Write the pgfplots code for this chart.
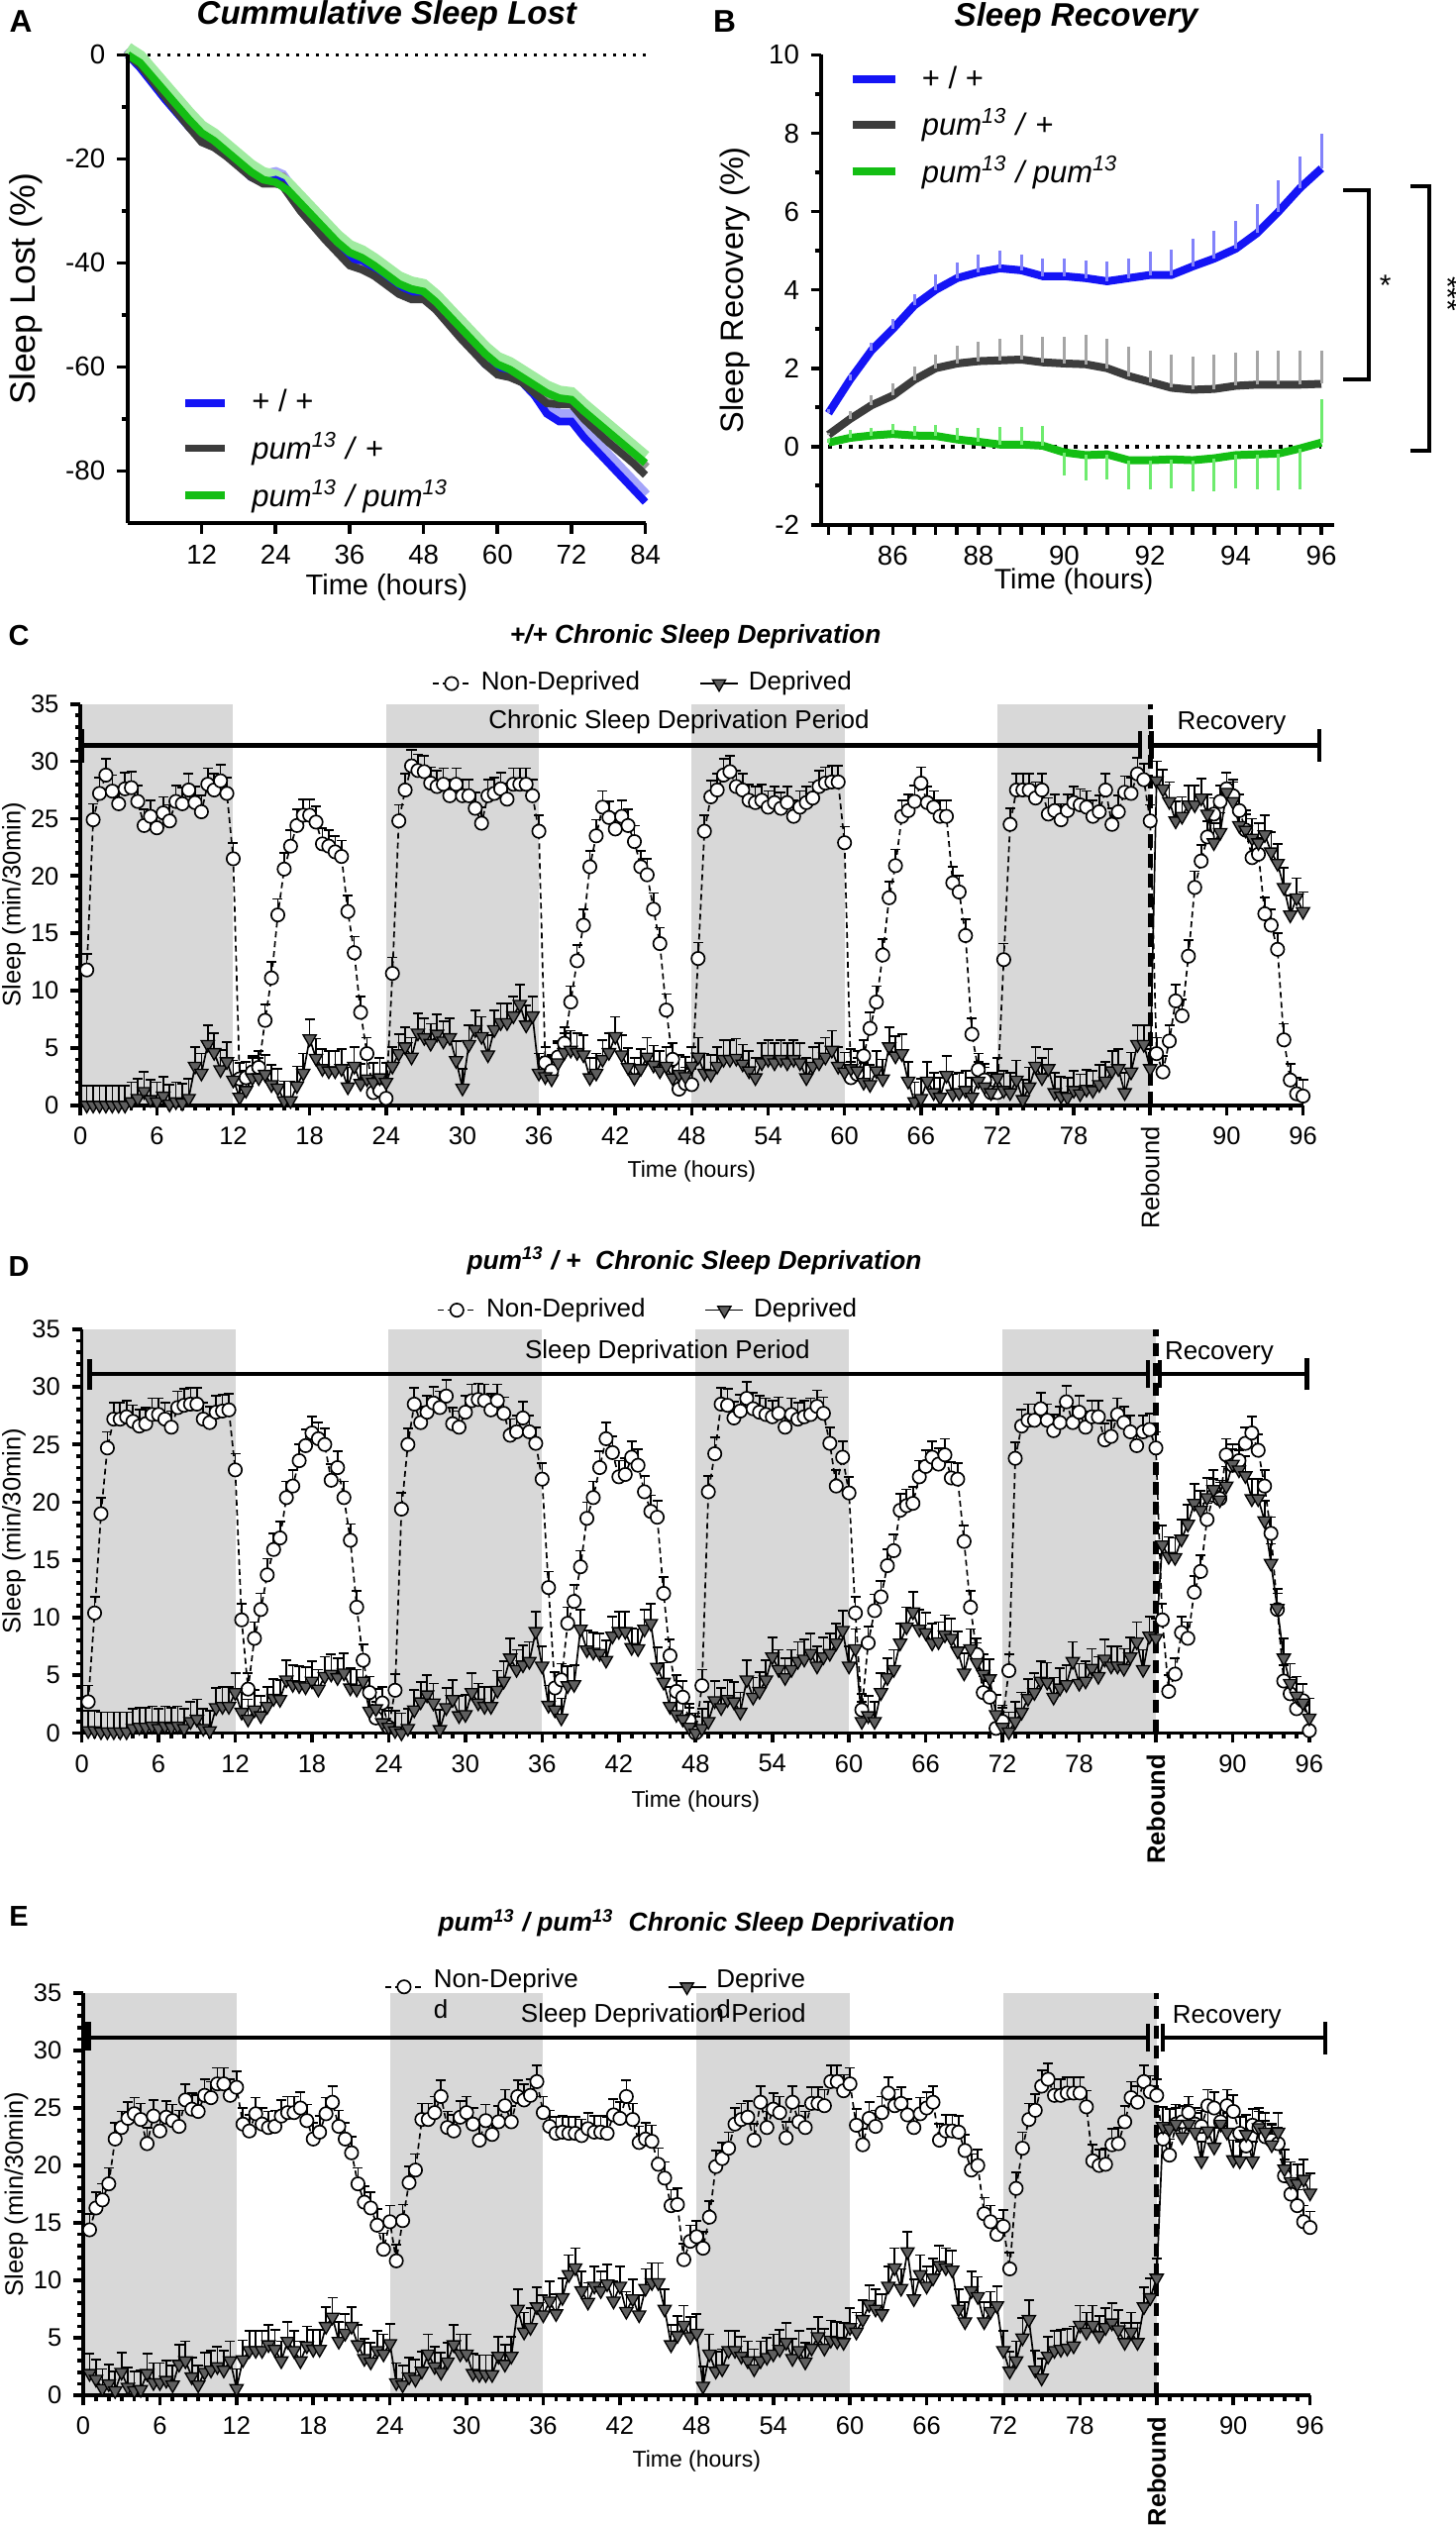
\documentclass[border=0pt]{standalone}
\usepackage{fontspec}
\setmainfont{Liberation Sans}
\usepackage{pgfplots}
\usepackage{pgfplotstable}
\pgfplotsset{compat=1.18}
\definecolor{cblue}{RGB}{20,20,245}
\definecolor{cgray}{RGB}{60,60,60}
\definecolor{cgreen}{RGB}{20,190,20}
\definecolor{lblue}{RGB}{130,130,250}
\definecolor{lgray}{RGB}{165,165,165}
\definecolor{lgreen}{RGB}{110,235,110}
\definecolor{hblue}{RGB}{165,165,250}
\definecolor{hgray}{RGB}{150,150,150}
\definecolor{hgreen}{RGB}{160,235,160}
\definecolor{band}{RGB}{216,216,216}
\definecolor{tri}{RGB}{95,95,95}
\newcommand\fTickAB{\fontsize{8.3}{10}\selectfont}
\newcommand\fTickC{\fontsize{7.65}{9}\selectfont}
\newcommand\fLegC{\fontsize{7.8}{9.4}\selectfont}

\pgfplotstableread{
x nd dep
0.5 11.8 0.0
1.0 24.9 0.0
1.5 27.2 0.0
2.0 28.8 0.0
2.5 27.4 0.0
3.0 26.3 0.0
3.5 27.6 0.0
4.0 27.7 0.3
4.5 26.5 0.6
5.0 24.4 1.2
5.5 25.2 0.5
6.0 24.2 0.3
6.5 25.5 0.8
7.0 24.8 0.1
7.5 26.5 0.3
8.0 26.3 0.2
8.5 27.5 0.6
9.0 26.4 3.4
9.5 25.6 2.8
10.0 28.0 5.3
10.5 27.5 4.6
11.0 28.3 3.1
11.5 27.2 3.8
12.0 21.5 2.2
12.5 2.3 0.7
13.0 2.4 1.3
13.5 2.9 2.4
14.0 3.3 2.4
14.5 7.4 2.7
15.0 11.1 1.8
15.5 16.6 1.5
16.0 20.6 0.4
16.5 22.6 0.4
17.0 24.4 1.7
17.5 25.3 2.8
18.0 25.3 5.8
18.5 24.7 4.1
19.0 22.8 3.2
19.5 22.6 3.0
20.0 22.1 3.0
20.5 21.7 3.2
21.0 16.9 1.6
21.5 13.3 3.4
22.0 8.1 1.9
22.5 4.5 2.3
23.0 1.1 2.0
23.5 1.3 2.4
24.0 0.6 2.0
24.5 11.5 3.4
25.0 24.8 4.5
25.5 27.5 5.1
26.0 29.6 4.2
26.5 29.2 6.3
27.0 29.1 5.9
27.5 28.1 5.4
28.0 27.8 6.2
28.5 28.0 5.6
29.0 27.0 5.9
29.5 28.0 3.9
30.0 27.0 1.5
30.5 27.0 5.3
31.0 25.9 6.6
31.5 24.6 6.0
32.0 27.0 4.4
32.5 27.2 6.6
33.0 27.6 7.2
33.5 26.7 7.2
34.0 28.0 7.8
34.5 28.0 8.8
35.0 28.0 7.0
35.5 27.0 7.8
36.0 23.9 2.8
36.5 3.7 2.5
37.0 3.0 2.3
37.5 4.2 3.7
38.0 5.4 4.6
38.5 9.0 4.8
39.0 12.6 4.6
39.5 15.7 4.4
40.0 20.8 2.4
40.5 23.5 2.8
41.0 26.0 4.0
41.5 25.1 4.6
42.0 24.1 6.0
42.5 25.2 4.4
43.0 24.4 3.3
43.5 23.0 2.4
44.0 20.8 3.2
44.5 20.1 4.2
45.0 17.1 3.5
45.5 14.1 3.0
46.0 8.3 3.4
46.5 4.0 2.4
47.0 1.4 2.7
47.5 1.9 2.5
48.0 1.8 3.4
48.5 12.8 4.2
49.0 23.9 2.8
49.5 26.9 2.7
50.0 27.5 3.4
50.5 28.8 4.0
51.0 29.1 4.0
51.5 27.8 4.1
52.0 27.5 3.6
52.5 26.6 3.0
53.0 26.4 2.4
53.5 26.6 3.7
54.0 26.0 4.0
54.5 26.4 3.7
55.0 25.9 4.0
55.5 26.4 3.7
56.0 25.2 4.0
56.5 26.0 3.7
57.0 26.4 2.4
57.5 26.8 3.4
58.0 27.8 3.7
58.5 28.1 4.2
59.0 28.2 4.8
59.5 28.2 3.4
60.0 22.9 2.9
60.5 2.4 3.2
61.0 2.7 3.0
61.5 4.3 2.0
62.0 6.7 1.8
62.5 9.0 3.0
63.0 13.1 2.3
63.5 18.1 5.1
64.0 20.9 4.3
64.5 25.2 4.5
65.0 25.7 2.1
65.5 26.5 0.3
66.0 28.1 0.6
66.5 26.4 2.1
67.0 26.0 1.1
67.5 25.2 0.7
68.0 25.2 2.6
68.5 19.4 1.0
69.0 18.6 1.1
69.5 14.8 1.3
70.0 6.2 0.7
70.5 3.1 2.1
71.0 2.2 1.6
71.5 1.1 1.1
72.0 1.1 2.4
72.5 12.7 1.3
73.0 24.5 1.1
73.5 27.5 2.2
74.0 27.5 0.5
74.5 27.5 1.6
75.0 26.8 3.4
75.5 27.5 2.4
76.0 25.4 3.2
76.5 25.7 1.1
77.0 24.9 0.8
77.5 25.7 0.7
78.0 26.4 1.3
78.5 26.2 1.0
79.0 26.0 1.4
79.5 25.2 1.3
80.0 25.6 1.8
80.5 27.5 2.1
81.0 24.5 3.0
81.5 25.6 3.2
82.0 27.3 1.1
82.5 27.2 2.9
83.0 28.9 5.3
83.5 28.4 5.3
84.0 24.8 3.2
84.5 4.5 28.3
85.0 2.9 27.6
85.5 5.6 26.5
86.0 9.1 24.8
86.5 7.8 25.2
87.0 13.0 26.2
87.5 19.0 26.2
88.0 21.3 26.8
88.5 23.4 25.4
89.0 25.4 22.9
89.5 26.5 23.8
90.0 27.6 27.3
90.5 27.0 26.5
91.0 25.7 24.4
91.5 24.0 24.0
92.0 21.6 23.3
92.5 21.9 22.9
93.0 16.7 23.6
93.5 15.7 22.1
94.0 13.6 21.1
94.5 5.7 19.0
95.0 2.2 16.6
95.5 1.0 18.1
96.0 0.8 16.9
}\Cdata

\pgfplotstableread{
x nd dep
0.5 2.7 0.2
1.0 10.4 0.2
1.5 19.0 0.1
2.0 24.7 0.1
2.5 27.2 0.1
3.0 27.2 0.1
3.5 27.4 0.1
4.0 27.0 0.4
4.5 26.6 0.5
5.0 26.8 0.5
5.5 27.6 0.6
6.0 27.6 0.4
6.5 27.2 0.6
7.0 26.5 0.5
7.5 28.2 0.6
8.0 28.4 0.4
8.5 28.5 1.0
9.0 28.5 1.2
9.5 27.2 0.4
10.0 26.9 0.2
10.5 27.8 2.2
11.0 27.9 2.3
11.5 28.0 2.3
12.0 22.8 3.5
12.5 9.8 1.8
13.0 3.8 1.2
13.5 8.2 2.0
14.0 10.7 1.5
14.5 13.7 2.3
15.0 15.9 3.0
15.5 16.9 2.9
16.0 20.4 4.6
16.5 21.4 4.2
17.0 23.6 4.1
17.5 24.9 4.0
18.0 26.0 4.5
18.5 25.5 3.8
19.0 25.0 4.9
19.5 21.9 5.1
20.0 23.0 4.8
20.5 20.4 5.2
21.0 16.7 3.9
21.5 10.9 3.8
22.0 6.3 4.5
22.5 3.5 1.9
23.0 1.3 2.1
23.5 2.6 0.9
24.0 0.5 0.5
24.5 3.7 0.2
25.0 19.4 0.0
25.5 25.0 0.4
26.0 28.5 2.0
26.5 26.9 2.7
27.0 27.8 3.3
27.5 28.6 2.6
28.0 28.2 0.3
28.5 29.2 2.2
29.0 26.8 2.9
29.5 26.5 1.5
30.0 27.8 1.6
30.5 28.8 3.5
31.0 28.9 2.6
31.5 28.8 2.3
32.0 28.0 2.3
32.5 28.8 3.7
33.0 27.7 4.5
33.5 25.8 6.5
34.0 26.1 5.5
34.5 27.3 5.9
35.0 26.1 6.2
35.5 25.1 8.8
36.0 22.0 5.8
36.5 12.6 2.4
37.0 3.9 2.0
37.5 4.6 1.3
38.0 9.5 4.1
38.5 11.4 4.2
39.0 14.4 9.0
39.5 18.6 7.2
40.0 20.4 7.0
40.5 23.0 6.9
41.0 25.5 6.3
41.5 24.3 8.4
42.0 22.2 8.8
42.5 22.4 8.8
43.0 23.9 7.4
43.5 23.2 7.3
44.0 20.9 9.0
44.5 19.2 9.5
45.0 18.7 5.7
45.5 12.1 4.4
46.0 6.7 2.3
46.5 3.6 1.6
47.0 3.1 1.2
47.5 1.1 0.5
48.0 0.0 0.0
48.5 4.1 0.4
49.0 20.9 1.0
49.5 24.2 2.8
50.0 28.5 2.2
50.5 28.4 2.9
51.0 27.3 2.7
51.5 27.9 1.8
52.0 29.0 4.6
52.5 28.1 3.1
53.0 27.8 3.6
53.5 27.6 4.6
54.0 27.4 6.6
54.5 27.7 5.5
55.0 26.5 4.8
55.5 27.6 5.5
56.0 27.2 6.2
56.5 27.4 6.4
57.0 27.6 6.9
57.5 28.3 5.8
58.0 27.7 6.6
58.5 25.1 6.9
59.0 21.4 7.8
59.5 23.9 8.9
60.0 20.8 5.8
60.5 10.4 7.3
61.0 2.0 1.0
61.5 7.8 1.5
62.0 10.6 1.0
62.5 11.8 3.5
63.0 14.5 4.8
63.5 15.8 5.5
64.0 19.3 7.8
64.5 19.7 9.2
65.0 19.9 10.5
65.5 22.2 9.0
66.0 23.1 8.7
66.5 23.9 7.8
67.0 23.3 7.9
67.5 24.1 8.5
68.0 22.1 8.2
68.5 22.0 7.1
69.0 16.6 5.2
69.5 10.9 7.3
70.0 6.8 6.1
70.5 3.5 5.1
71.0 3.1 4.7
71.5 0.4 1.6
72.0 1.0 0.5
72.5 5.4 0.1
73.0 23.8 1.0
73.5 26.6 1.8
74.0 27.1 3.0
74.5 27.1 3.5
75.0 28.1 4.5
75.5 27.1 4.4
76.0 26.2 3.1
76.5 26.9 3.9
77.0 28.7 4.2
77.5 26.9 6.2
78.0 27.8 4.3
78.5 26.5 4.5
79.0 27.4 5.6
79.5 27.4 4.9
80.0 25.4 6.4
80.5 25.7 5.8
81.0 27.6 5.8
81.5 26.9 5.6
82.0 26.1 6.6
82.5 24.9 7.9
83.0 26.1 5.5
83.5 26.3 8.4
84.0 24.7 8.2
84.5 9.8 16.3
85.0 3.6 15.3
85.5 5.1 15.2
86.0 8.7 16.8
86.5 8.2 18.1
87.0 12.2 19.9
87.5 14.0 19.3
88.0 18.5 20.4
88.5 20.6 21.1
89.0 20.3 20.2
89.5 24.1 21.4
90.0 23.2 23.3
90.5 23.6 22.8
91.0 25.1 22.3
91.5 26.0 20.3
92.0 24.5 20.3
92.5 21.4 18.4
93.0 17.3 14.7
93.5 10.7 10.8
94.0 4.5 6.5
94.5 3.4 4.3
95.0 2.1 3.2
95.5 2.8 2.6
96.0 0.2 1.3
}\Ddata

\pgfplotstableread{
x nd dep
0.5 14.4 1.9
1.0 16.3 1.4
1.5 17.0 0.6
2.0 18.4 1.0
2.5 22.3 0.4
3.0 23.3 2.0
3.5 24.1 0.7
4.0 24.5 0.4
4.5 24.0 0.5
5.0 21.9 1.9
5.5 24.3 1.1
6.0 23.0 1.1
6.5 24.2 1.3
7.0 23.9 0.9
7.5 23.4 2.7
8.0 25.7 3.0
8.5 24.9 1.6
9.0 24.7 0.9
9.5 26.1 2.0
10.0 25.9 2.2
10.5 27.1 2.5
11.0 27.1 2.2
11.5 26.1 3.0
12.0 26.8 0.6
12.5 23.6 3.1
13.0 23.0 3.9
13.5 24.5 3.9
14.0 23.6 3.9
14.5 23.3 4.4
15.0 23.4 4.0
15.5 24.3 3.0
16.0 24.6 4.7
16.5 24.6 3.9
17.0 25.0 3.0
17.5 23.9 4.3
18.0 22.3 4.0
18.5 22.9 4.0
19.0 24.5 6.0
19.5 25.5 6.8
20.0 23.4 4.7
20.5 22.3 5.4
21.0 21.1 6.0
21.5 18.4 4.4
22.0 16.8 3.2
22.5 16.3 2.9
23.0 14.8 3.9
23.5 12.7 3.6
24.0 15.1 4.5
24.5 11.7 1.1
25.0 15.2 0.9
25.5 18.5 1.6
26.0 19.6 1.4
26.5 24.0 2.1
27.0 24.0 3.6
27.5 24.6 2.5
28.0 26.0 2.0
28.5 23.3 2.9
29.0 23.0 4.4
29.5 24.2 3.6
30.0 24.6 3.6
30.5 23.6 1.9
31.0 22.2 1.8
31.5 23.9 1.8
32.0 22.7 1.8
32.5 23.8 3.4
33.0 25.2 2.7
33.5 23.8 3.4
34.0 26.0 7.5
34.5 25.7 5.5
35.0 26.1 5.9
35.5 27.3 7.7
36.0 24.6 7.0
36.5 23.4 8.2
37.0 22.8 7.1
37.5 22.9 8.5
38.0 22.8 10.5
38.5 22.8 11.1
39.0 22.6 9.1
39.5 23.2 8.1
40.0 22.9 9.5
40.5 22.9 9.1
41.0 22.8 9.7
41.5 24.4 8.2
42.0 24.1 9.5
42.5 26.0 7.3
43.0 24.0 8.4
43.5 22.0 7.0
44.0 22.3 9.3
44.5 22.1 9.8
45.0 20.1 9.8
45.5 18.9 7.5
46.0 16.5 4.4
46.5 16.6 5.2
47.0 11.8 6.1
47.5 13.4 5.1
48.0 13.8 5.4
48.5 12.8 0.8
49.0 15.5 3.6
49.5 19.9 2.1
50.0 20.6 2.3
50.5 21.5 3.9
51.0 23.6 3.9
51.5 24.0 3.4
52.0 24.2 3.0
52.5 22.2 2.3
53.0 25.5 3.0
53.5 23.3 3.3
54.0 24.9 3.6
54.5 24.6 4.0
55.0 22.4 4.6
55.5 25.5 3.2
56.0 23.8 3.9
56.5 23.3 2.9
57.0 25.4 4.1
57.5 25.4 5.1
58.0 25.2 4.1
58.5 27.3 4.8
59.0 27.3 4.7
59.5 26.5 4.6
60.0 27.1 5.9
60.5 23.5 5.5
61.0 21.8 6.6
61.5 24.1 7.9
62.0 23.4 7.5
62.5 24.6 7.1
63.0 26.3 9.5
63.5 25.2 11.1
64.0 25.4 9.3
64.5 24.4 12.5
65.0 23.3 8.4
65.5 24.5 10.5
66.0 25.0 9.5
66.5 25.5 10.2
67.0 22.2 11.3
67.5 23.0 11.1
68.0 23.0 10.9
68.5 22.9 7.5
69.0 21.3 6.4
69.5 19.6 9.1
70.0 20.0 8.6
70.5 15.8 6.4
71.0 15.1 7.3
71.5 14.0 7.8
72.0 14.7 3.9
72.5 11.0 2.1
73.0 18.0 3.0
73.5 21.5 5.0
74.0 24.0 6.6
74.5 24.8 2.2
75.0 26.9 1.5
75.5 27.5 3.4
76.0 26.1 3.9
76.5 26.1 4.0
77.0 26.3 4.1
77.5 26.3 4.3
78.0 26.3 6.1
78.5 25.1 5.5
79.0 20.4 6.1
79.5 20.0 5.2
80.0 20.1 5.9
80.5 21.8 6.3
81.0 21.9 5.7
81.5 23.8 4.6
82.0 25.9 5.5
82.5 25.5 4.6
83.0 27.3 7.7
83.5 26.4 8.5
84.0 26.1 10.2
84.5 22.3 23.4
85.0 20.9 23.2
85.5 23.6 23.6
86.0 23.8 22.5
86.5 24.6 23.6
87.0 23.6 22.9
87.5 23.4 20.4
88.0 25.2 23.0
88.5 25.0 21.6
89.0 23.8 23.6
89.5 25.2 22.9
90.0 24.7 20.5
90.5 22.8 20.4
91.0 21.7 22.7
91.5 23.5 20.4
92.0 23.3 23.3
92.5 22.5 22.9
93.0 22.2 21.8
93.5 21.9 22.9
94.0 19.1 19.7
94.5 17.5 18.6
95.0 16.5 18.4
95.5 15.1 18.8
96.0 14.6 17.6
}\Edata

\pgfplotstableread{
x y
0 0
2 -2.5
6 -8.5
10 -14
12 -16
14 -17
16 -19.2
20 -23.5
22 -24.5
24 -24
25 -24.5
28 -29.5
32 -35
36 -39.5
38 -39.5
40 -41
44 -45
46 -46
48 -46
50 -48.5
54 -54
58 -59.5
60 -61
62 -61.5
64 -63
66 -65.5
68 -69
70 -70.5
72 -70.5
74 -73.5
78 -78.5
82 -83.5
84 -86
}\Ablue
\pgfplotstableread{
x y
0 0
2 -2
6 -8
10 -14
12 -16.8
14 -17.8
16 -19.5
20 -23.5
22 -24.8
24 -24.8
25 -25
28 -30
32 -35.5
36 -40.5
38 -41.3
40 -42.5
44 -46
46 -47
48 -47
50 -49
54 -54.5
58 -59.5
60 -61.5
62 -62
64 -63
68 -67
70 -67.2
72 -67.2
74 -70
78 -74.5
82 -78.5
84 -80.8
}\Agray
\pgfplotstableread{
x y
0 0
2 -1.5
6 -7
10 -12.5
12 -15
14 -16.5
16 -18.5
20 -22.5
22 -24
24 -24.5
26 -26
30 -31
34 -36
36 -38
38 -39
40 -40.5
44 -44
46 -45
48 -45.5
50 -47.5
54 -52.5
58 -57.5
60 -59.5
62 -60.5
64 -62
68 -65
70 -66
72 -66.3
74 -68.5
78 -72.5
82 -76.5
84 -78.5
}\Agreen

\pgfplotsset{
 prism/.style={
  scale only axis,
  axis lines=left,
  axis line style={-, line width=1.1pt},
  x axis line style={-}, y axis line style={-},
  tick style={black, line width=1.1pt},
  tick align=outside,
  /pgf/number format/assume math mode=true,
  clip=false,
  axis on top,
 },
 sdaxis/.style={
  prism,
  xmin=0, xmax=96, ymin=0, ymax=35,
  xtick={0,6,...,96},
  xticklabels={0,6,12,18,24,30,36,42,48,54,60,66,72,78,{},90,96},
  minor x tick num=5,
  ytick={0,5,...,35}, minor y tick num=4,
  major tick length=3pt, minor tick length=1.7pt,
  ticklabel style={font=\fTickC},
  extra x ticks={84}, extra x tick labels={Rebound},
  xlabel={Time (hours)}, ylabel={Sleep (min/30min)},
  xlabel style={font=\fontsize{6.9}{8}\selectfont, at={(axis description cs:0.5,-0.164)}, anchor=center},
  ylabel style={font=\fTickC, at={(axis description cs:-0.0545,0.5)}, anchor=center},
  title style={font=\fontsize{7.9}{9.5}\selectfont\bfseries\itshape, anchor=center, yshift=-6pt},
  legend columns=2,
  legend style={draw=none, fill=none, inner sep=0pt, font=\fLegC, anchor=west,
    /tikz/every even column/.append style={column sep=16pt},
    /tikz/every odd column/.append style={column sep=1pt}},
  legend image code/.code={\draw[mark repeat=2, mark phase=2, #1] plot coordinates {(0pt,0pt) (5.7pt,0pt) (11.4pt,0pt)};},
 },
 ndplot/.style={black, line width=0.5pt, dash pattern=on 1.8pt off 1.2pt, mark=*, mark size=2pt,
   mark options={fill=white, draw=black, solid, line width=0.5pt},
   error bars/y dir=plus, error bars/y fixed=1.4,
   error bars/error bar style={black, solid, line width=0.5pt},
   error bars/error mark options={rotate=90, mark size=1.5pt, line width=0.5pt, black, solid}},
 dpplot/.style={black, line width=0.5pt, mark=triangle*, mark size=2.3pt,
   mark options={rotate=180, fill=tri, draw=black, line width=0.4pt, solid},
   error bars/y dir=plus, error bars/y fixed=1.7,
   error bars/error bar style={black, solid, line width=0.5pt},
   error bars/error mark options={rotate=90, mark size=1.5pt, line width=0.5pt, black, solid}},
}

\begin{document}
\begin{tikzpicture}
\path[use as bounding box] (0pt,0pt) rectangle (441pt,-765pt);

% ---------------- A ----------------
\begin{axis}[prism, at={(38.7pt,-158.37pt)}, anchor=south west, width=156.8pt, height=141.75pt,
  xmin=0, xmax=84, ymin=-90, ymax=0,
  xtick={12,24,36,48,60,72,84}, ytick={-80,-60,-40,-20,0}, minor ytick={-70,-50,-30,-10},
  major tick length=3.3pt, minor tick length=1.8pt,
  ticklabel style={font=\fTickAB},
  xlabel={Time (hours)}, ylabel={Sleep Lost (\%)},
  xlabel style={font=\fontsize{8.7}{10}\selectfont, at={(axis description cs:0.5,-0.138)}, anchor=center},
  ylabel style={font=\fontsize{10.7}{12}\selectfont, at={(axis description cs:-0.197,0.5)}, anchor=center},
  title={Cummulative Sleep Lost},
  title style={font=\fontsize{9.9}{12}\selectfont\bfseries\itshape, at={(axis description cs:0.5,1.084)}, anchor=center, yshift=-6pt},
  legend style={at={(axis description cs:0.103,0.30)}, anchor=north west, draw=none, fill=none, inner sep=0pt,
    font=\fontsize{9.3}{11}\selectfont, row sep=0.5pt, /tikz/every odd column/.append style={column sep=5pt}},
  legend cell align=left,
  legend image code/.code={\draw[#1] (0pt,0pt) -- (12pt,0pt);},
]
\draw[dotted, line width=1pt] (axis cs:0,0) -- (axis cs:84,0);
% light error hatching (SEM) drawn above each mean line
\addplot[hblue, line width=3.6pt, yshift=2pt, forget plot] table {\Ablue};
\addplot[hgray, line width=3.6pt, yshift=2pt, forget plot] table {\Agray};
\addplot[hgreen, line width=3.6pt, yshift=2pt, forget plot] table {\Agreen};
\addplot[cblue, line width=2.3pt] table {\Ablue};
\addlegendentry{+ / +}
\addplot[cgray, line width=2.3pt] table {\Agray};
\addlegendentry{\textit{pum}\textsuperscript{\textit{13}} \textit{/} +}
\addplot[cgreen, line width=2.3pt] table {\Agreen};
\addlegendentry{\textit{pum}\textsuperscript{\textit{13}} \textit{/ pum}\textsuperscript{\textit{13}}}
\end{axis}

% ---------------- B ----------------
\begin{axis}[prism, at={(248.6pt,-158.94pt)}, anchor=south west, width=155.4pt, height=142.3pt,
  xmin=84.32, xmax=96.29, ymin=-2, ymax=10,
  xtick={84.5,85,85.5,86,86.5,87,87.5,88,88.5,89,89.5,90,90.5,91,91.5,92,92.5,93,93.5,94,94.5,95,95.5,96},
  xticklabels={,,,86,,,,88,,,,90,,,,92,,,,94,,,,96},
  ytick={-2,0,2,4,6,8,10}, minor ytick={-1,1,3,5,7,9},
  major tick length=3pt, minor tick length=1.8pt,
  ticklabel style={font=\fTickAB},
  xlabel={Time (hours)}, ylabel={Sleep Recovery (\%)},
  xlabel style={font=\fontsize{8.55}{10}\selectfont, at={(axis description cs:0.493,-0.121)}, anchor=center},
  ylabel style={font=\fontsize{9.75}{11}\selectfont, at={(axis description cs:-0.1675,0.5)}, anchor=center},
  title={Sleep Recovery},
  title style={font=\fontsize{9.9}{12}\selectfont\bfseries\itshape, at={(axis description cs:0.498,1.079)}, anchor=center, yshift=-6pt},
  legend style={at={(axis description cs:0.0526,0.992)}, anchor=north west, draw=none, fill=none, inner sep=0pt,
    font=\fontsize{9.3}{11}\selectfont, row sep=0.5pt, /tikz/every odd column/.append style={column sep=5pt}},
  legend cell align=left,
  legend image code/.code={\draw[#1] (0pt,0pt) -- (12.9pt,0pt);},
]
\draw[dotted, line width=1.1pt] (axis cs:84.5,0) -- (axis cs:96,0);
\addplot[cblue, line width=2.4pt, error bars/y dir=plus, error bars/y explicit, error bars/error mark=none,
  error bars/error bar style={lblue, line width=0.9pt}] coordinates {
(84.5,0.85) +- (0,0.1) (85,1.7) +- (0,0.15) (85.5,2.45) +- (0,0.2) (86,3.0) +- (0,0.25) (86.5,3.6) +- (0,0.3) (87,4.0) +- (0,0.4) (87.5,4.3) +- (0,0.4) (88,4.45) +- (0,0.45) (88.5,4.55) +- (0,0.45) (89,4.5) +- (0,0.4) (89.5,4.35) +- (0,0.45) (90,4.35) +- (0,0.45) (90.5,4.3) +- (0,0.45) (91,4.22) +- (0,0.5) (91.5,4.3) +- (0,0.5) (92,4.38) +- (0,0.6) (92.5,4.38) +- (0,0.65) (93,4.6) +- (0,0.7) (93.5,4.8) +- (0,0.7) (94,5.05) +- (0,0.7) (94.5,5.45) +- (0,0.75) (95,6.0) +- (0,0.8) (95.5,6.6) +- (0,0.8) (96,7.1) +- (0,0.9)};
\addlegendentry{+ / +}
\addplot[cgray, line width=2.4pt, error bars/y dir=plus, error bars/y explicit, error bars/error mark=none,
  error bars/error bar style={lgray, line width=0.9pt}] coordinates {
(84.5,0.3) +- (0,0.05) (85,0.7) +- (0,0.2) (85.5,1.05) +- (0,0.25) (86,1.3) +- (0,0.3) (86.5,1.7) +- (0,0.35) (87,2.0) +- (0,0.35) (87.5,2.12) +- (0,0.45) (88,2.18) +- (0,0.5) (88.5,2.2) +- (0,0.55) (89,2.22) +- (0,0.63) (89.5,2.15) +- (0,0.65) (90,2.12) +- (0,0.68) (90.5,2.1) +- (0,0.75) (91,2.0) +- (0,0.75) (91.5,1.8) +- (0,0.75) (92,1.65) +- (0,0.8) (92.5,1.5) +- (0,0.85) (93,1.45) +- (0,0.85) (93.5,1.47) +- (0,0.88) (94,1.55) +- (0,0.85) (94.5,1.58) +- (0,0.87) (95,1.58) +- (0,0.87) (95.5,1.58) +- (0,0.87) (96,1.6) +- (0,0.85)};
\addlegendentry{\textit{pum}\textsuperscript{\textit{13}} \textit{/} +}
\addplot[cgreen, line width=2.4pt, error bars/y dir=both, error bars/y explicit, error bars/error mark=none,
  error bars/error bar style={lgreen, line width=0.9pt}] coordinates {
(84.5,0.1) += (0,0.1) -= (0,0) (85,0.22) += (0,0.2) -= (0,0) (85.5,0.28) += (0,0.2) -= (0,0) (86,0.32) += (0,0.25) -= (0,0) (86.5,0.28) += (0,0.25) -= (0,0) (87,0.27) += (0,0.28) -= (0,0) (87.5,0.18) += (0,0.3) -= (0,0) (88,0.12) += (0,0.35) -= (0,0) (88.5,0.05) += (0,0.45) -= (0,0) (89,0.05) += (0,0.45) -= (0,0) (89.5,0.02) += (0,0.5) -= (0,0) (90,-0.15) += (0,0) -= (0,0.6) (90.5,-0.22) += (0,0) -= (0,0.65) (91,-0.2) += (0,0) -= (0,0.65) (91.5,-0.35) += (0,0) -= (0,0.75) (92,-0.35) += (0,0) -= (0,0.75) (92.5,-0.33) += (0,0) -= (0,0.75) (93,-0.35) += (0,0) -= (0,0.8) (93.5,-0.3) += (0,0) -= (0,0.85) (94,-0.22) += (0,0) -= (0,0.85) (94.5,-0.2) += (0,0) -= (0,0.9) (95,-0.18) += (0,0) -= (0,0.95) (95.5,-0.05) += (0,0) -= (0,1.05) (96,0.1) += (0,1.1) -= (0,0)};
\addlegendentry{\textit{pum}\textsuperscript{\textit{13}} \textit{/ pum}\textsuperscript{\textit{13}}}
\end{axis}

% ---------------- C ----------------
\begin{axis}[sdaxis, at={(24.36pt,-334.71pt)}, anchor=south west, width=370.3pt, height=121.5pt,
  extra x tick style={tick label style={rotate=90, anchor=east}},
  title={+/+ Chronic Sleep Deprivation}, title style={at={(axis description cs:0.503,1.169)}},
  legend style={at={(axis description cs:0.287,1.051)}},
]
\fill[band] (axis cs:0,0) rectangle (axis cs:12,35);
\fill[band] (axis cs:24,0) rectangle (axis cs:36,35);
\fill[band] (axis cs:48,0) rectangle (axis cs:60,35);
\fill[band] (axis cs:72,0) rectangle (axis cs:84,35);
\draw[line width=1.6pt, dash pattern=on 4pt off 2pt] (axis cs:84,0) -- (axis cs:84,35);
\draw[line width=1.3pt] (axis cs:0,31.4) -- (axis cs:83.2,31.4);
\draw[line width=1.6pt] (axis cs:0.1,29.9) -- (axis cs:0.1,32.8);
\draw[line width=1.3pt] (axis cs:83.2,30.2) -- (axis cs:83.2,32.6);
\draw[line width=1.3pt] (axis cs:84.1,31.4) -- (axis cs:97.3,31.4);
\draw[line width=1.3pt] (axis cs:84.1,30.2) -- (axis cs:84.1,32.6);
\draw[line width=1.3pt] (axis cs:97.3,30.0) -- (axis cs:97.3,32.8);
\node[font=\fLegC] at (axis cs:47,33.4) {Chronic Sleep Deprivation Period};
\node[font=\fLegC] at (axis cs:90.4,33.3) {Recovery};
\addplot[ndplot] table[x=x, y=nd] {\Cdata};
\addlegendentry{Non-Deprived}
\addplot[dpplot] table[x=x, y=dep] {\Cdata};
\addlegendentry{Deprived}
\end{axis}

% ---------------- D ----------------
\begin{axis}[sdaxis, at={(24.78pt,-524.82pt)}, anchor=south west, width=371.8pt, height=122.3pt,
  extra x tick style={tick label style={rotate=90, anchor=east, font=\fTickC\bfseries}},
  ylabel style={at={(axis description cs:-0.0554,0.5)}},
  xlabel style={at={(axis description cs:0.5,-0.169)}},
  title={pum\textsuperscript{13} / +\ \ Chronic Sleep Deprivation}, title style={at={(axis description cs:0.499,1.169)}},
  legend style={at={(axis description cs:0.289,1.047)}},
]
\fill[band] (axis cs:0,0) rectangle (axis cs:12,35);
\fill[band] (axis cs:24,0) rectangle (axis cs:36,35);
\fill[band] (axis cs:48,0) rectangle (axis cs:60,35);
\fill[band] (axis cs:72,0) rectangle (axis cs:84,35);
\draw[line width=1.6pt, dash pattern=on 4pt off 2pt] (axis cs:84,0) -- (axis cs:84,35);
\draw[line width=1.3pt] (axis cs:0.6,31.1) -- (axis cs:83.4,31.1);
\draw[line width=1.6pt] (axis cs:0.6,29.7) -- (axis cs:0.6,32.4);
\draw[line width=1.3pt] (axis cs:83.4,29.9) -- (axis cs:83.4,32.3);
\draw[line width=1.3pt] (axis cs:84.3,31.1) -- (axis cs:95.8,31.1);
\draw[line width=1.3pt] (axis cs:84.3,29.9) -- (axis cs:84.3,32.3);
\draw[line width=1.3pt] (axis cs:95.8,29.7) -- (axis cs:95.8,32.5);
\node[font=\fLegC] at (axis cs:45.8,33.0) {Sleep Deprivation Period};
\node[font=\fLegC] at (axis cs:88.95,32.9) {Recovery};
\addplot[ndplot] table[x=x, y=nd] {\Ddata};
\addlegendentry{Non-Deprived}
\addplot[dpplot] table[x=x, y=dep] {\Ddata};
\addlegendentry{Deprived}
\end{axis}

% ---------------- E ----------------
\begin{axis}[sdaxis, at={(25.2pt,-725.4pt)}, anchor=south west, width=371.6pt, height=121.8pt,
  extra x tick style={tick label style={rotate=90, anchor=east, font=\fTickC\bfseries}},
  title={pum\textsuperscript{13} / pum\textsuperscript{13}\ \ Chronic Sleep Deprivation}, title style={at={(axis description cs:0.5,1.174)}},
  legend style={at={(axis description cs:0.245,1.0155)}, /tikz/every even column/.append style={column sep=25pt}},
]
\fill[band] (axis cs:0,0) rectangle (axis cs:12,35);
\fill[band] (axis cs:24,0) rectangle (axis cs:36,35);
\fill[band] (axis cs:48,0) rectangle (axis cs:60,35);
\fill[band] (axis cs:72,0) rectangle (axis cs:84,35);
\draw[line width=1.6pt, dash pattern=on 4pt off 2pt] (axis cs:84,0) -- (axis cs:84,35);
\draw[line width=1.3pt] (axis cs:0.25,31.1) -- (axis cs:83.3,31.1);
\draw[line width=2.6pt] (axis cs:0.25,30.0) -- (axis cs:0.25,32.5);
\draw[line width=1.3pt] (axis cs:83.3,29.9) -- (axis cs:83.3,32.3);
\draw[line width=1.3pt] (axis cs:84.5,31.1) -- (axis cs:97.2,31.1);
\draw[line width=1.3pt] (axis cs:84.5,29.9) -- (axis cs:84.5,32.3);
\draw[line width=1.3pt] (axis cs:97.2,29.7) -- (axis cs:97.2,32.5);
\node[font=\fLegC] at (axis cs:45.4,33.0) {Sleep Deprivation Period};
\node[font=\fLegC] at (axis cs:89.5,32.9) {Recovery};
\addplot[ndplot] table[x=x, y=nd] {\Edata};
\addlegendentry{\begin{tabular}[c]{@{}l@{}}Non-Deprive\\d\end{tabular}}
\addplot[dpplot] table[x=x, y=dep] {\Edata};
\addlegendentry{\begin{tabular}[c]{@{}l@{}}Deprive\\d\end{tabular}}
\end{axis}

% ---------------- annotations ----------------
\node[font=\fontsize{9.5}{11}\selectfont\bfseries] at (6.3pt,-6.6pt) {A};
\node[font=\fontsize{9.5}{11}\selectfont\bfseries] at (219.5pt,-6.6pt) {B};
\node[font=\fontsize{8.7}{10}\selectfont\bfseries] at (5.7pt,-192.6pt) {C};
\node[font=\fontsize{8.7}{10}\selectfont\bfseries] at (5.7pt,-383.7pt) {D};
\node[font=\fontsize{8.7}{10}\selectfont\bfseries] at (5.7pt,-580.5pt) {E};
\draw[line width=1.2pt] (406.8pt,-57.54pt) -- (414.6pt,-57.54pt) -- (414.6pt,-115.05pt) -- (406.8pt,-115.05pt);
\node[font=\fontsize{9}{10}\selectfont] at (419.6pt,-86.58pt) {*};
\draw[line width=1.2pt] (427.2pt,-56.34pt) -- (432.9pt,-56.34pt) -- (432.9pt,-136.41pt) -- (427.2pt,-136.41pt);
\node[font=\fontsize{9}{10}\selectfont, rotate=-90] at (438.6pt,-88.98pt) {***};
\end{tikzpicture}
\end{document}
